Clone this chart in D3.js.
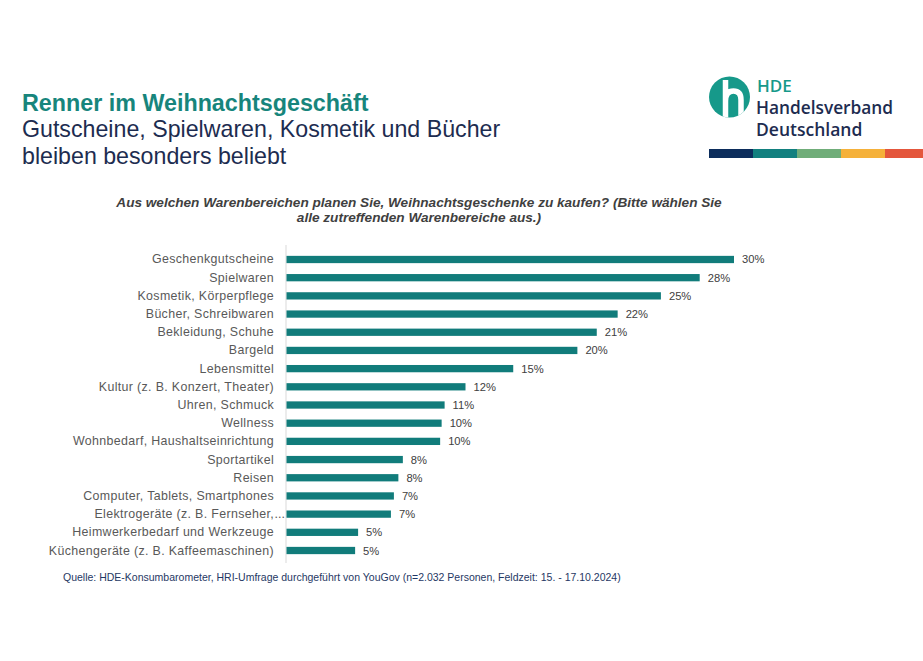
<!DOCTYPE html>
<html>
<head>
<meta charset="utf-8">
<script src="https://cdn.jsdelivr.net/npm/d3@7"></script>
<style>
  html, body { margin: 0; padding: 0; background: #fff; }
  svg { display: block; font-family: "Liberation Sans", Arial, sans-serif; }
</style>
</head>
<body>
<svg id="chart" width="923" height="661"></svg>
<script>
const categories = [
  "Geschenkgutscheine",
  "Spielwaren",
  "Kosmetik, Körperpflege",
  "Bücher, Schreibwaren",
  "Bekleidung, Schuhe",
  "Bargeld",
  "Lebensmittel",
  "Kultur (z. B. Konzert, Theater)",
  "Uhren, Schmuck",
  "Wellness",
  "Wohnbedarf, Haushaltseinrichtung",
  "Sportartikel",
  "Reisen",
  "Computer, Tablets, Smartphones",
  "Elektrogeräte (z. B. Fernseher,...",
  "Heimwerkerbedarf und Werkzeuge",
  "Küchengeräte (z. B. Kaffeemaschinen)"
];
const values = [30.0, 27.7, 25.1, 22.2, 20.8, 19.5, 15.2, 12.0, 10.6, 10.4, 10.3, 7.8, 7.5, 7.2, 7.0, 4.8, 4.6];
const valueLabels = ["30%", "28%", "25%", "22%", "21%", "20%", "15%", "12%", "11%", "10%", "10%", "8%", "8%", "7%", "7%", "5%", "5%"];

const titleText = "Renner im Weihnachtsgeschäft";
const subtitleLines = ["Gutscheine, Spielwaren, Kosmetik und Bücher", "bleiben besonders beliebt"];
const questionLines = ["Aus welchen Warenbereichen planen Sie, Weihnachtsgeschenke zu kaufen? (Bitte wählen Sie", "alle zutreffenden Warenbereiche aus.)"];
const sourceText = "Quelle: HDE-Konsumbarometer, HRI-Umfrage durchgeführt von YouGov (n=2.032 Personen, Feldzeit: 15. - 17.10.2024)";
const logoLines = ["HDE", "Handelsverband", "Deutschland"];
const stripeColors = ["#0c2d5c", "#12807f", "#70ad79", "#f5b13a", "#e4563c"];

const svg = d3.select("#chart");

// Title block
svg.append("text").attr("x", 22).attr("y", 111)
  .attr("font-size", 23.3).attr("font-weight", "bold").attr("fill", "#17857c")
  .text(titleText);
svg.selectAll("text.sub").data(subtitleLines).join("text").attr("class", "sub")
  .attr("x", 22).attr("y", (d, i) => 137 + i * 27)
  .attr("font-size", 23.2).attr("fill", "#1d2c50")
  .text(d => d);

// Logo
const logo = svg.append("g");
logo.append("circle").attr("cx", 729.5).attr("cy", 97).attr("r", 20.5).attr("fill", "#16998a");
logo.append("clipPath").attr("id", "lc").append("circle").attr("cx", 729.5).attr("cy", 97).attr("r", 20.5);
logo.append("path").attr("clip-path", "url(#lc)")
  .attr("d", "M725.5 80 V120 M725.5 101 Q725.5 91 733.5 91 Q741 91 741 100 V120")
  .attr("fill", "none").attr("stroke", "#fff").attr("stroke-width", 5.5);
logo.append("text").attr("x", 757).attr("y", 92).attr("font-family", "'Open Sans', sans-serif")
  .attr("font-size", 17).attr("font-weight", 600).attr("fill", "#16998a").text(logoLines[0]);
logo.append("text").attr("x", 756).attr("y", 114).attr("font-family", "'Open Sans', sans-serif")
  .attr("font-size", 17.3).attr("font-weight", 600).attr("fill", "#1d2c50").text(logoLines[1]);
logo.append("text").attr("x", 756).attr("y", 136).attr("font-family", "'Open Sans', sans-serif")
  .attr("font-size", 17.5).attr("font-weight", 600).attr("fill", "#1d2c50").text(logoLines[2]);

const stripeX = d3.scaleBand().domain(d3.range(stripeColors.length)).range([709, 929]);
svg.selectAll("rect.stripe").data(stripeColors).join("rect").attr("class", "stripe")
  .attr("x", (d, i) => stripeX(i)).attr("y", 149).attr("width", stripeX.bandwidth() + 0.5).attr("height", 9)
  .attr("fill", d => d);

// Question
svg.selectAll("text.q").data(questionLines).join("text").attr("class", "q")
  .attr("x", 419).attr("y", (d, i) => 207 + i * 15)
  .attr("text-anchor", "middle").attr("font-size", 13.6).attr("font-weight", "bold")
  .attr("font-style", "italic").attr("fill", "#404040")
  .text(d => d);

// Chart
const x = d3.scaleLinear().domain([0, 30]).range([286.5, 734]);
const y = d3.scaleBand().domain(categories).range([250.4, 559.6]).paddingInner(0.6).paddingOuter(0.3);

svg.append("line").attr("x1", 286).attr("x2", 286).attr("y1", 245).attr("y2", 563)
  .attr("stroke", "#d9d9d9").attr("stroke-width", 1);

svg.selectAll("rect.bar").data(values).join("rect").attr("class", "bar")
  .attr("x", x(0)).attr("y", (d, i) => y(categories[i]))
  .attr("width", d => x(d) - x(0)).attr("height", y.bandwidth())
  .attr("fill", "#117c7b");

svg.selectAll("text.val").data(values).join("text").attr("class", "val")
  .attr("x", d => x(d) + 8).attr("y", (d, i) => y(categories[i]) + y.bandwidth() / 2 + 4)
  .attr("font-size", 11.2).attr("fill", "#404040")
  .text((d, i) => valueLabels[i]);

const catG = svg.selectAll("g.cat").data(categories).join("g").attr("class", "cat");
catG.each(function (d) {
  const g = d3.select(this);
  const cy = y(d) + y.bandwidth() / 2 + 4;
  const trunc = d.endsWith("...");
  const main = trunc ? d.slice(0, -3) : d;
  g.append("text").attr("x", 274).attr("y", cy).attr("text-anchor", "end")
    .attr("font-size", 12.4).attr("fill", "#595959").attr("letter-spacing", 0.35).text(main);
  if (trunc) {
    g.append("text").attr("x", 274.5).attr("y", cy).attr("font-size", 12.4)
      .attr("fill", "#595959").text("...");
  }
});

// Source
svg.append("text").attr("x", 63).attr("y", 581).attr("font-size", 10.5).attr("fill", "#1f3864")
  .text(sourceText);
</script>
</body>
</html>
